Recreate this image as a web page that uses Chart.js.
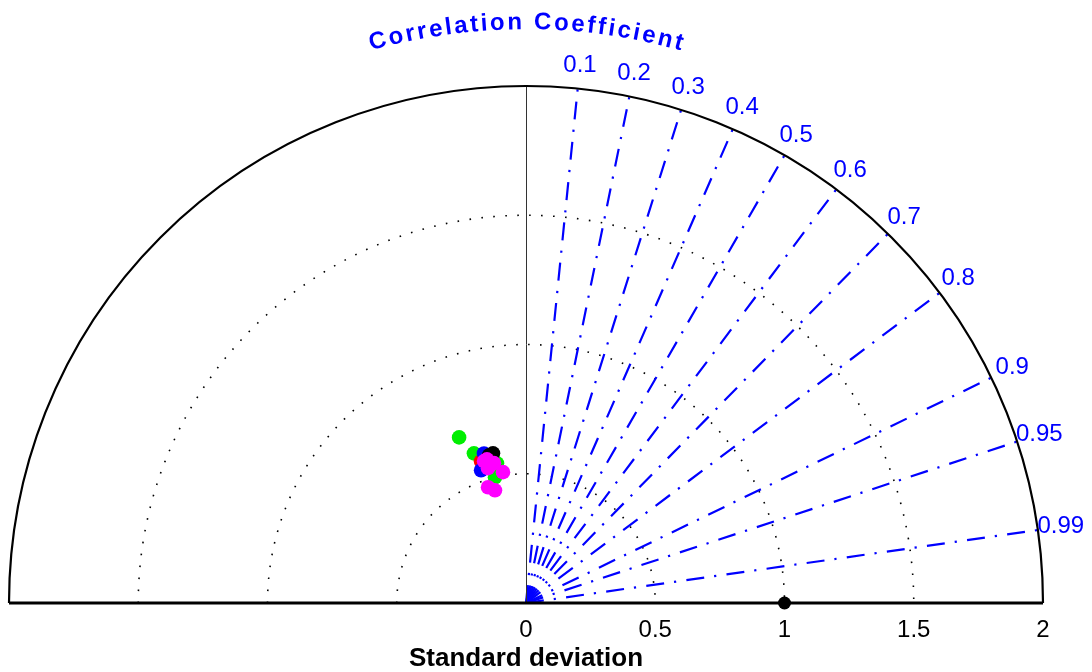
<!DOCTYPE html>
<html>
<head>
<meta charset="utf-8">
<script src="https://cdn.jsdelivr.net/npm/chart.js@4.4.1/dist/chart.umd.min.js"></script>
<style>
  html, body { margin: 0; padding: 0; background: #ffffff; }
  canvas { display: block; }
</style>
</head>
<body>
<canvas id="taylor" width="1092" height="672"></canvas>
<script>
// Taylor diagram: every model is placed by its standard deviation (radius)
// and its correlation with the reference (cosine of the angle).

// Radial axis
const stdMax = 2;
const stdTicks = [0, 0.5, 1, 1.5, 2];
const stdTickLabels = ['0', '0.5', '1', '1.5', '2'];
const stdCircles = [0.5, 1, 1.5];

// Correlation rays
const corrTicks = [0.1, 0.2, 0.3, 0.4, 0.5, 0.6, 0.7, 0.8, 0.9, 0.95, 0.99];
const corrTickLabels = ['0.1', '0.2', '0.3', '0.4', '0.5', '0.6', '0.7', '0.8', '0.9', '0.95', '0.99'];

// Reference field
const refStd = [1];
const refCorr = [1];

// Model groups
const greenStd  = [0.692, 0.614, 0.553, 0.502, 0.578];
const greenCorr = [-0.374, -0.328, -0.203, -0.239, -0.241];
const redStd    = [0.576, 0.558];
const redCorr   = [-0.302, -0.291];
const blueStd   = [0.602, 0.543, 0.585];
const blueCorr  = [-0.270, -0.320, -0.238];
const blackStd  = [0.594, 0.590];
const blackCorr = [-0.215, -0.242];
const magentaStd  = [0.577, 0.543, 0.556, 0.515, 0.472, 0.453, 0.573];
const magentaCorr = [-0.262, -0.271, -0.223, -0.173, -0.311, -0.265, -0.283];

const axisTitle = 'Standard deviation';
const arcTitle = 'Correlation Coefficient';

const FONT = '"Liberation Sans", Arial, Helvetica, sans-serif';

function toXY(stds, corrs) {
  return stds.map((s, i) => ({ x: s * corrs[i], y: s * Math.sqrt(Math.max(0, 1 - corrs[i] * corrs[i])) }));
}

// higher "order" is painted first, i.e. underneath
function groupDataset(label, stds, corrs, color, order, radius) {
  return {
    label: label,
    data: toXY(stds, corrs),
    backgroundColor: color,
    borderColor: color,
    borderWidth: 0,
    pointRadius: radius,
    pointHoverRadius: radius,
    order: order,
    clip: false
  };
}

const taylorGrid = {
  id: 'taylorGrid',
  beforeDatasetsDraw(chart) {
    const ctx = chart.ctx;
    const sx = chart.scales.x, sy = chart.scales.y;
    const ox = sx.getPixelForValue(0), oy = sy.getPixelForValue(0);
    const unit = sx.getPixelForValue(1) - ox;
    const rMax = stdMax * unit;
    ctx.save();

    // standard-deviation circles (dotted)
    ctx.strokeStyle = '#000';
    ctx.lineWidth = 1.6;
    ctx.setLineDash([1.6, 10.4]);
    stdCircles.forEach(r => {
      ctx.beginPath();
      ctx.arc(ox, oy, r * unit, Math.PI, 2 * Math.PI);
      ctx.stroke();
    });

    // correlation rays (dash-dot)
    ctx.strokeStyle = '#0000ff';
    ctx.lineWidth = 2.2;
    ctx.setLineDash([18, 10, 2.2, 10.3]);
    corrTicks.forEach(c => {
      const a = Math.acos(c);
      ctx.beginPath();
      ctx.moveTo(ox, oy);
      ctx.lineTo(ox + rMax * Math.cos(a), oy - rMax * Math.sin(a));
      ctx.stroke();
    });

    // zero-correlation axis
    ctx.setLineDash([]);
    ctx.strokeStyle = '#333';
    ctx.lineWidth = 1;
    ctx.beginPath();
    ctx.moveTo(ox + 0.5, oy);
    ctx.lineTo(ox + 0.5, oy - rMax);
    ctx.stroke();

    // outer boundary
    ctx.strokeStyle = '#000';
    ctx.lineWidth = 2.2;
    ctx.beginPath();
    ctx.arc(ox, oy, rMax, Math.PI, 2 * Math.PI);
    ctx.stroke();

    // baseline
    ctx.lineWidth = 2.8;
    ctx.beginPath();
    ctx.moveTo(ox - rMax, oy);
    ctx.lineTo(ox + rMax, oy);
    ctx.stroke();
    ctx.restore();
  },
  afterDraw(chart) {
    const ctx = chart.ctx;
    const sx = chart.scales.x, sy = chart.scales.y;
    const ox = sx.getPixelForValue(0), oy = sy.getPixelForValue(0);
    const unit = sx.getPixelForValue(1) - ox;
    ctx.save();

    // radial tick labels
    ctx.fillStyle = '#000';
    ctx.font = '24px ' + FONT;
    ctx.textAlign = 'center';
    ctx.textBaseline = 'alphabetic';
    stdTicks.forEach((t, i) => {
      ctx.fillText(stdTickLabels[i], sx.getPixelForValue(t), oy + 34);
    });

    // axis title
    ctx.font = 'bold 26px ' + FONT;
    ctx.fillText(axisTitle, ox, oy + 63);

    // correlation labels
    ctx.fillStyle = '#0000ff';
    ctx.font = '24px ' + FONT;
    ctx.textBaseline = 'middle';
    const rLab = 2.09 * unit;
    corrTicks.forEach((c, i) => {
      const a = Math.acos(c);
      ctx.fillText(corrTickLabels[i], ox + rLab * Math.cos(a), oy - rLab * Math.sin(a));
    });

    // curved title along an arc
    ctx.font = 'bold 24px ' + FONT;
    ctx.textBaseline = 'alphabetic';
    ctx.textAlign = 'center';
    const rT = 2.22 * unit;
    const gap = 2.5;
    const chars = arcTitle.split('');
    const widths = chars.map(ch => ctx.measureText(ch).width);
    const total = widths.reduce((s, w) => s + w, 0) + gap * (chars.length - 1);
    let s = 0;
    chars.forEach((ch, i) => {
      const mid = s + widths[i] / 2;
      const theta = Math.PI / 2 + total / (2 * rT) - mid / rT;
      const px = ox + rT * Math.cos(theta), py = oy - rT * Math.sin(theta);
      ctx.save();
      ctx.translate(px, py);
      ctx.rotate(Math.PI / 2 - theta);
      ctx.fillText(ch, 0, 0);
      ctx.restore();
      s += widths[i] + gap;
    });
    ctx.restore();
  }
};

new Chart(document.getElementById('taylor'), {
  type: 'scatter',
  data: {
    datasets: [
      groupDataset('Group A', greenStd, greenCorr, '#00ee00', 5, 7.3),
      groupDataset('Group B', redStd, redCorr, '#ff0000', 4, 7.3),
      groupDataset('Group C', blueStd, blueCorr, '#0000ff', 3, 7.3),
      groupDataset('Group D', blackStd, blackCorr, '#000000', 2, 7.3),
      groupDataset('Group E', magentaStd, magentaCorr, '#ff00ff', 1, 7.3),
      groupDataset('Reference', refStd, refCorr, '#000000', 0, 6.5)
    ]
  },
  options: {
    responsive: false,
    animation: false,
    devicePixelRatio: 1,
    layout: { padding: { left: 9, right: 49, top: 87, bottom: 69 } },
    scales: {
      x: { type: 'linear', min: -stdMax, max: stdMax, display: false },
      y: { type: 'linear', min: 0, max: stdMax, display: false }
    },
    plugins: {
      legend: { display: false },
      tooltip: { enabled: false },
      title: { display: false }
    },
    elements: { point: { hitRadius: 0 } }
  },
  plugins: [taylorGrid]
});
</script>
</body>
</html>
